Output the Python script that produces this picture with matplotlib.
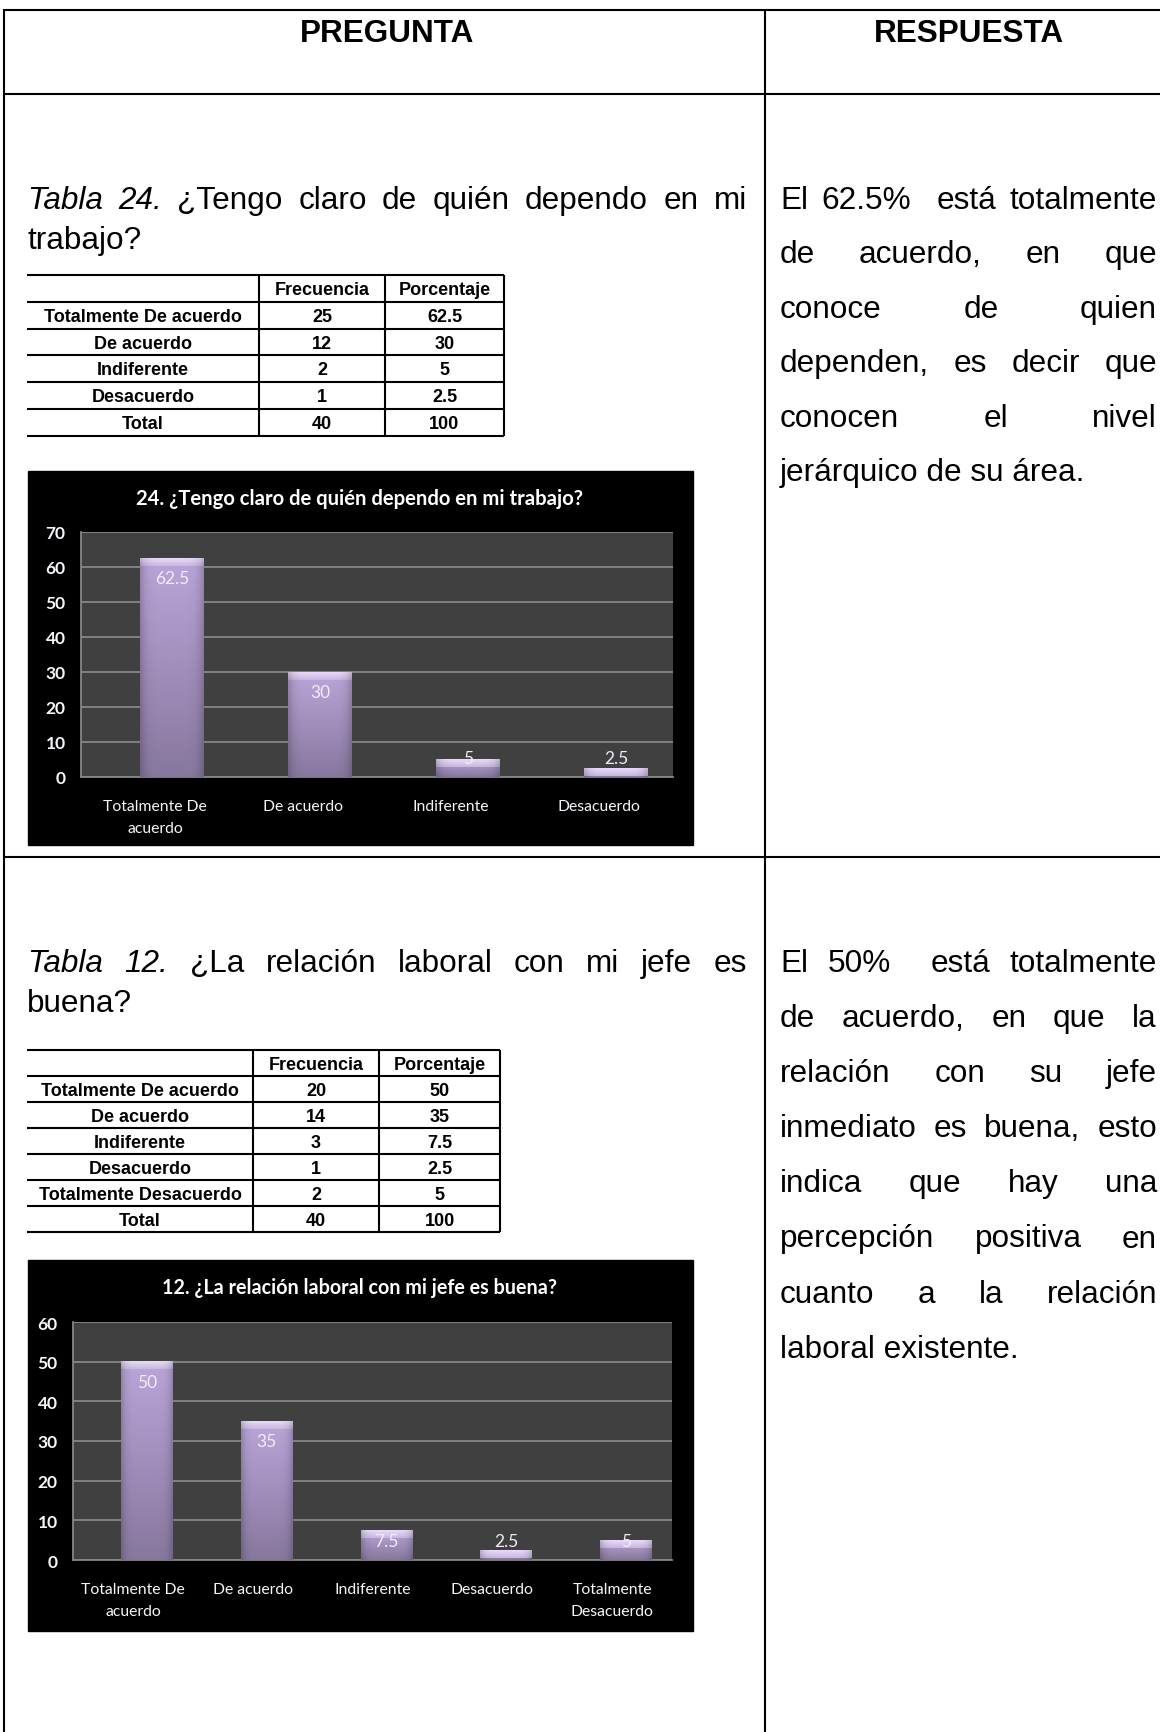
import matplotlib
matplotlib.use('Agg')
import matplotlib.pyplot as plt
import numpy as np
from matplotlib.patches import Rectangle

W, H = 1160, 1733
BODY = 22.7            # size of the document text (pt)
TAB = 13               # size of the small tables (pt)
CH = 12.5              # chart label size (pt)
DOC_FONT = 'Liberation Sans'
CHART_FONT = 'Lato'

# ---- data ----
headers = ['PREGUNTA', 'RESPUESTA']
tab_cols = ['Frecuencia', 'Porcentaje']

q24 = ['Tabla 24. ¿Tengo claro de quién dependo en mi', 'trabajo?']
t24_cats = ['Totalmente De acuerdo', 'De acuerdo', 'Indiferente', 'Desacuerdo']
t24_freq = [25, 12, 2, 1]
t24_pct = [62.5, 30, 5, 2.5]
t24_total = [40, 100]
t24_title = '24. ¿Tengo claro de quién dependo en mi trabajo?'
t24_xlabels = ['Totalmente De\nacuerdo', 'De acuerdo', 'Indiferente', 'Desacuerdo']
resp24 = ['El 62.5%  está totalmente',
          'de acuerdo, en que',
          'conoce de quien',
          'dependen, es decir que',
          'conocen el nivel',
          'jerárquico de su área.']

q12 = ['Tabla 12. ¿La relación laboral con mi jefe es', 'buena?']
t12_cats = ['Totalmente De acuerdo', 'De acuerdo', 'Indiferente', 'Desacuerdo',
            'Totalmente Desacuerdo']
t12_freq = [20, 14, 3, 1, 2]
t12_pct = [50, 35, 7.5, 2.5, 5]
t12_total = [40, 100]
t12_title = '12. ¿La relación laboral con mi jefe es buena?'
t12_xlabels = ['Totalmente De\nacuerdo', 'De acuerdo', 'Indiferente', 'Desacuerdo',
               'Totalmente\nDesacuerdo']
resp12 = ['El 50%  está totalmente',
          'de acuerdo, en que la',
          'relación con su jefe',
          'inmediato es buena, esto',
          'indica que hay una',
          'percepción positiva en',
          'cuanto a la relación',
          'laboral existente.']

fig = plt.figure(figsize=(W / 100, H / 100), dpi=100)
fig.patch.set_facecolor('white')
bg = fig.add_axes([0, 0, 1, 1])
bg.set_xlim(0, W)
bg.set_ylim(H, 0)
bg.axis('off')
renderer = fig.canvas.get_renderer()


def hline(x0, x1, y, lw=1.5):
    bg.plot([x0, x1], [y, y], color='black', lw=lw, solid_capstyle='butt')


def vline(x, y0, y1, lw=1.5):
    bg.plot([x, x], [y0, y1], color='black', lw=lw, solid_capstyle='butt')


def width_of(t):
    return t.get_window_extent(renderer).width


def justify(line, x0, x1, y, italic_words=0, last=False):
    # word by word so the line fills the column like the justified document text
    if last:
        bg.text(x0, y, line, fontsize=BODY, family=DOC_FONT, va='baseline')
        return
    words = line.split(' ')
    arts = []
    for i, w in enumerate(words):
        st = 'italic' if i < italic_words else 'normal'
        arts.append(bg.text(0, y, w, fontsize=BODY, family=DOC_FONT, style=st,
                            va='baseline'))
    widths = [width_of(t) if t.get_text() else 0 for t in arts]
    gap = (x1 - x0 - sum(widths)) / (len(words) - 1)
    x = x0
    for t, wd in zip(arts, widths):
        t.set_x(x)
        x += wd + gap


def fit_size(text, target, family, weight='normal'):
    t = bg.text(0, 0, text, fontsize=10, family=family, weight=weight)
    s = 10 * target / width_of(t)
    t.remove()
    return s


def freq_table(cats, freq, pct, total, xs, y0, rh):
    rows = len(cats) + 2
    ys = [y0 + i * rh for i in range(rows + 1)]
    for y in ys:
        hline(xs[0], xs[3], y)
    for x in xs[1:]:
        vline(x, ys[0], ys[-1])
    labels = [''] + cats + ['Total']
    col1 = [tab_cols[0]] + [str(v) for v in freq] + [str(total[0])]
    col2 = [tab_cols[1]] + [f'{v:g}' for v in pct] + [str(total[1])]
    for i in range(rows):
        yc = (ys[i] + ys[i + 1]) / 2 + 1
        for j, txt in enumerate([labels[i], col1[i], col2[i]]):
            bg.text((xs[j] + xs[j + 1]) / 2, yc, txt, fontsize=TAB, family=DOC_FONT,
                    weight='bold', ha='center', va='center')


def chart(box, plot, labels, vals, title, title_w, ymax):
    bx0, by0, bx1, by1 = box
    bg.add_patch(Rectangle((bx0, by0), bx1 - bx0, by1 - by0, color='black', zorder=1))
    size = fit_size(title, title_w, CHART_FONT, 'bold')
    bg.text((bx0 + bx1) / 2 - 1, by0 + 27, title, fontsize=size, family=CHART_FONT,
            weight='bold', color='white', ha='center', va='center', zorder=2)

    px0, ptop, px1, pbot = plot
    ax = fig.add_axes([px0 / W, 1 - pbot / H, (px1 - px0) / W, (pbot - ptop) / H])
    ax.set_facecolor('#404040')
    n = len(vals)
    ax.set_xlim(-0.5, n - 0.5)
    ax.set_ylim(0, ymax)
    ppu = ax.bbox.height / ymax

    bars = ax.bar(np.arange(n) + 0.115, vals, width=0.43, color='#9c8cb8', zorder=3)
    for b in bars:
        x, w, h = b.get_x(), b.get_width(), b.get_height()
        npx = max(int(round(h * ppu)), 3)
        t = np.linspace(0, 1, npx)[:, None, None]
        top = np.array([0.73, 0.65, 0.85])
        bot = np.array([0.53, 0.47, 0.62])
        img = np.repeat(top + (bot - top) * t, 30, axis=1)
        bev = min(8, npx - 1)
        for r in range(bev):
            img[r] = np.array([0.91, 0.85, 0.99]) - 0.14 * r / bev
        xs = np.linspace(-1, 1, 30)
        img = img * (1 - 0.18 * np.abs(xs) ** 6)[None, :, None]
        ax.imshow(np.clip(img, 0, 1), extent=(x, x + w, 0, h), aspect='auto',
                  origin='upper', zorder=4, interpolation='bilinear')
        ax.text(x + w / 2, max(h - 20 / ppu, 19 / ppu), f'{h:g}', ha='center',
                va='center', color='#f0ecf6', fontsize=CH, family=CHART_FONT, zorder=5)
    ax.set_xlim(-0.5, n - 0.5)
    ax.set_ylim(0, ymax)

    ax.set_yticks(range(0, ymax + 1, 10))
    ax.grid(axis='y', color='#868686', lw=1.3, zorder=1)
    ax.set_axisbelow(True)
    for s in ['top', 'right']:
        ax.spines[s].set_visible(False)
    for s in ['left', 'bottom']:
        ax.spines[s].set_color('#868686')
        ax.spines[s].set_linewidth(1.3)
    ax.tick_params(axis='y', length=0, pad=11, labelcolor='#f4f6fa', labelsize=CH)
    ax.tick_params(axis='x', length=0, pad=16, labelcolor='#f4f6fa', labelsize=11.3)
    ax.set_xticks(range(n))
    ax.set_xticklabels(labels, linespacing=1.7)
    for lbl in ax.get_yticklabels():
        lbl.set_fontfamily(CHART_FONT)
        lbl.set_fontweight('bold')
    for lbl in ax.get_xticklabels():
        lbl.set_fontfamily(CHART_FONT)
    return ax


# ---- outer document table ----
hline(3, W, 11)
hline(3, W, 95)
hline(3, W, 858)
vline(4, 10, H)
vline(765, 10, H)
bg.text(387, 34, headers[0], fontsize=BODY, family=DOC_FONT, weight='bold',
        ha='center', va='center')
bg.text(969, 34, headers[1], fontsize=BODY, family=DOC_FONT, weight='bold',
        ha='center', va='center')

# ---- block 24 ----
justify(q24[0], 27, 747, 209, italic_words=2)
justify(q24[1], 27, 747, 249, last=True)
for k, line in enumerate(resp24):
    justify(line, 780, 1157, 209 + 54.4 * k, last=(k == len(resp24) - 1))
freq_table(t24_cats, t24_freq, t24_pct, t24_total, [27, 259, 385, 504], 276, 26.8)
chart((28, 472, 693, 846), (81, 533, 673, 778), t24_xlabels, t24_pct,
      t24_title, 450, 70)

# ---- block 12 ----
justify(q12[0], 27, 747, 972, italic_words=2)
justify(q12[1], 27, 747, 1012, last=True)
for k, line in enumerate(resp12):
    justify(line, 780, 1157, 972 + 55.1 * k, last=(k == len(resp12) - 1))
freq_table(t12_cats, t12_freq, t12_pct, t12_total, [27, 253, 379, 500], 1051, 26)
chart((28, 1261, 693, 1632), (73, 1323, 672, 1561), t12_xlabels, t12_pct,
      t12_title, 396, 60)

fig.savefig('out.png', dpi=100)
